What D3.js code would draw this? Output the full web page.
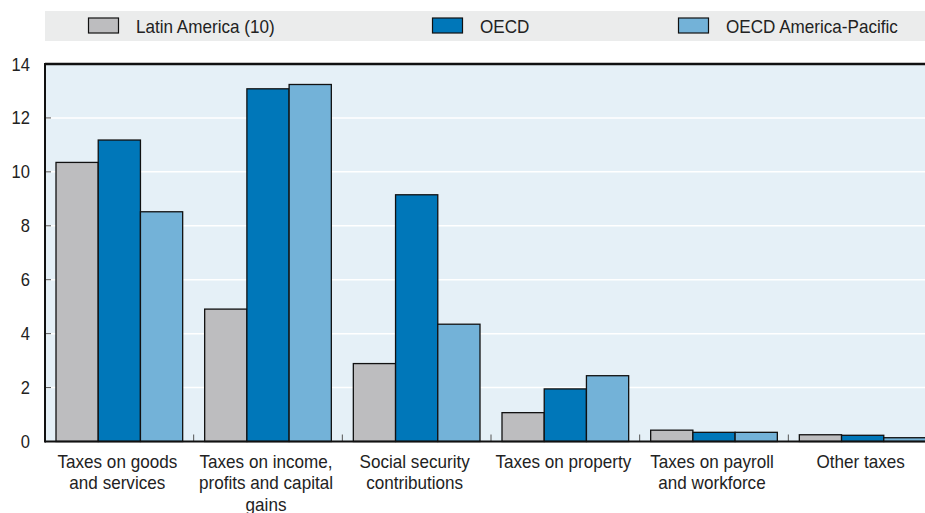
<!DOCTYPE html>
<html>
<head>
<meta charset="utf-8">
<script src="https://cdn.jsdelivr.net/npm/d3@7"></script>
<style>
  body { margin: 0; background: #fff; }
  text { font-family: "Liberation Sans", Arial, sans-serif; fill: #222; }
</style>
</head>
<body>
<div id="chart-area"></div>
<script>
// chart data
const categories = [
    ["Taxes on goods", "and services"],
    ["Taxes on income,", "profits and capital", "gains"],
    ["Social security", "contributions"],
    ["Taxes on property"],
    ["Taxes on payroll", "and workforce"],
    ["Other taxes"]
];
const seriesNames = ["Latin America (10)", "OECD", "OECD America-Pacific"];
const latinAmerica = [10.35, 4.91, 2.89, 1.07, 0.42, 0.25];
const oecd = [11.18, 13.08, 9.15, 1.95, 0.34, 0.23];
const oecdAmPac = [8.52, 13.24, 4.35, 2.44, 0.34, 0.14];
const yTicks = [0, 2, 4, 6, 8, 10, 12, 14];
const colors = ["#bdbdbf", "#0077b9", "#73b2d8"];

const W = 925, H = 513;
const margin = {left: 45, top: 64, bottom: 72};
const plotRight = 937; // plot runs past the right edge in the original
const squeeze = 0.95;  // narrow-ish type like the original

const svg = d3.select("#chart-area")
    .append("svg")
        .attr("width", W)
        .attr("height", H);

// Scales
const x = d3.scaleBand()
    .domain(d3.range(categories.length))
    .range([margin.left, plotRight]);

const xInner = d3.scaleBand()
    .domain(d3.range(seriesNames.length))
    .range([11, x.bandwidth() - 11]);

const y = d3.scaleLinear()
    .domain([0, 14])
    .range([H - margin.bottom + 0.5, margin.top]);

// plot background
svg.append("rect")
    .attr("x", margin.left)
    .attr("y", y(14))
    .attr("width", plotRight - margin.left)
    .attr("height", y(0) - y(14))
    .attr("fill", "#e5f0f7");

// gridlines
svg.append("g")
    .selectAll("line")
    .data(yTicks.filter(d => d > 0 && d < 14))
    .enter().append("line")
        .attr("x1", margin.left)
        .attr("x2", plotRight)
        .attr("y1", d => y(d))
        .attr("y2", d => y(d))
        .attr("stroke", "#fff")
        .attr("stroke-width", 1.5);

// y tick marks (inside)
svg.append("g")
    .selectAll("line")
    .data(yTicks.filter(d => d > 0 && d < 14))
    .enter().append("line")
        .attr("x1", margin.left)
        .attr("x2", margin.left + 6)
        .attr("y1", d => y(d))
        .attr("y2", d => y(d))
        .attr("stroke", "#555")
        .attr("stroke-width", 1);

// Y labels
svg.append("g")
    .selectAll("text")
    .data(yTicks)
    .enter().append("text")
        .attr("transform", d => "translate(30," + (y(d) + 6.5) + ") scale(0.92,1)")
        .attr("text-anchor", "end")
        .attr("font-size", "18px")
        .text(d => d);

// bars
const allSeries = [latinAmerica, oecd, oecdAmPac];
const groups = svg.append("g")
    .selectAll("g")
    .data(categories)
    .enter().append("g")
        .attr("transform", (d, i) => "translate(" + x(i) + ",0)");

groups.selectAll("rect")
    .data((d, i) => allSeries.map((s, k) => ({k: k, v: s[i]})))
    .enter().append("rect")
        .attr("x", d => xInner(d.k))
        .attr("y", d => y(d.v))
        .attr("width", xInner.bandwidth())
        .attr("height", d => y(0) - y(d.v))
        .attr("fill", d => colors[d.k])
        .attr("stroke", "#111")
        .attr("stroke-width", 1.3);

// x tick marks at group boundaries (inside)
svg.append("g")
    .selectAll("line")
    .data(d3.range(1, categories.length))
    .enter().append("line")
        .attr("x1", d => x(d))
        .attr("x2", d => x(d))
        .attr("y1", y(0))
        .attr("y2", y(0) - 7)
        .attr("stroke", "#555")
        .attr("stroke-width", 1);

// axes lines
svg.append("line")
    .attr("x1", margin.left).attr("x2", plotRight)
    .attr("y1", y(0)).attr("y2", y(0))
    .attr("stroke", "#111").attr("stroke-width", 2);
svg.append("line")
    .attr("x1", margin.left).attr("x2", plotRight)
    .attr("y1", y(14)).attr("y2", y(14))
    .attr("stroke", "#111").attr("stroke-width", 2.5);
svg.append("line")
    .attr("x1", margin.left).attr("x2", margin.left)
    .attr("y1", y(14) - 1).attr("y2", y(0) + 1)
    .attr("stroke", "#111").attr("stroke-width", 2);

// category labels
const catLabels = svg.append("g")
    .selectAll("text")
    .data(categories)
    .enter().append("text")
        .attr("text-anchor", "middle")
        .attr("font-size", "18px")
        .attr("transform", (d, i) => "translate(" + (x(i) + x.bandwidth() / 2 - 2) + ",468) scale(" + squeeze + ",1)");
catLabels.selectAll("tspan")
    .data(d => d)
    .enter().append("tspan")
        .attr("x", 0)
        .attr("y", (d, j) => j * 21.5)
        .text(d => d);

// legend
svg.append("rect")
    .attr("x", 45)
    .attr("y", 11)
    .attr("width", W - 45)
    .attr("height", 30)
    .attr("fill", "#ebecec");

const legendX = [88, 432, 678];
const legend = svg.append("g")
    .selectAll("g")
    .data(seriesNames)
    .enter().append("g")
        .attr("transform", (d, i) => "translate(" + legendX[i] + ",18)");
legend.append("rect")
    .attr("x", 0.5)
    .attr("y", 0)
    .attr("width", 30)
    .attr("height", 15)
    .attr("fill", (d, i) => colors[i])
    .attr("stroke", "#111")
    .attr("stroke-width", 1.2);
legend.append("text")
    .attr("transform", "translate(48,15) scale(" + squeeze + ",1)")
    .attr("font-size", "18px")
    .text(d => d);
</script>
</body>
</html>
